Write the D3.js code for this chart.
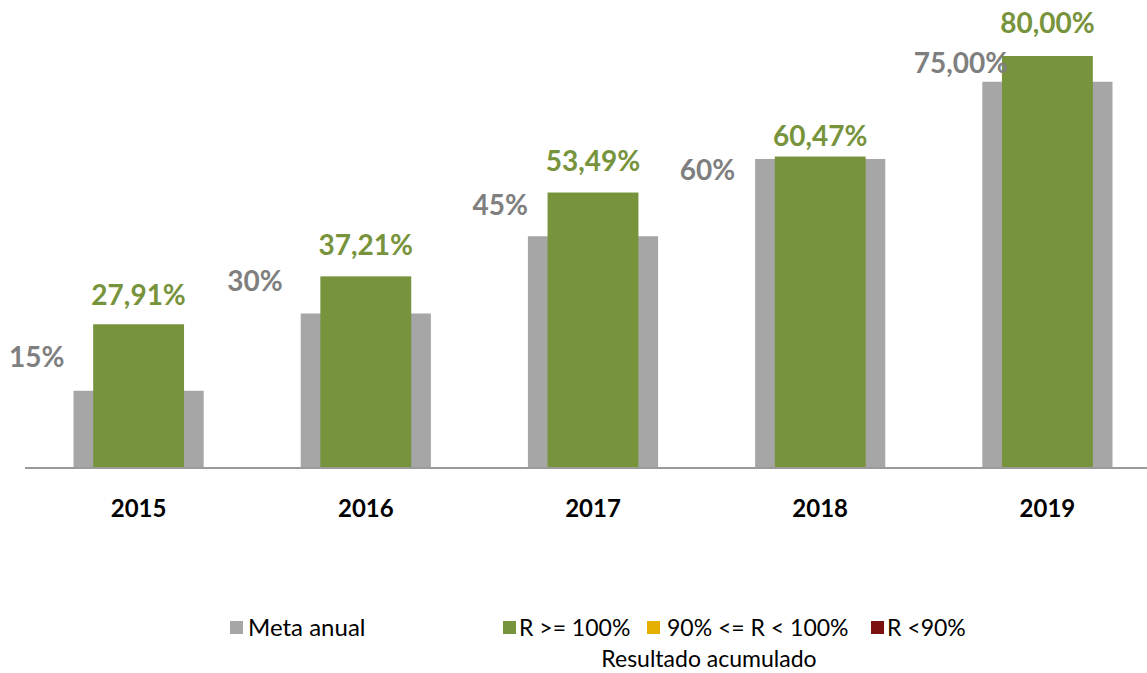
<!DOCTYPE html>
<html>
<head>
<meta charset="utf-8">
<script src="https://cdn.jsdelivr.net/npm/d3@7"></script>
<style>
  body { margin: 0; background: #fff; }
  text { font-family: "Lato", "Open Sans", sans-serif; }
</style>
</head>
<body>
<div id="chart"></div>
<script>
// Data
var years = ["2015", "2016", "2017", "2018", "2019"];
var metaAnual = [15, 30, 45, 60, 75];
var resultado = [27.91, 37.21, 53.49, 60.47, 80.00];
var metaLabels = ["15%", "30%", "45%", "60%", "75,00%"];
var resultadoLabels = ["27,91%", "37,21%", "53,49%", "60,47%", "80,00%"];
var legendItems = ["Meta anual", "R >= 100%", "90% <= R < 100%", "R <90%"];
var legendColors = ["#A6A6A6", "#77933C", "#E6B000", "#7B1010"];

// label nudges (the original labels were placed by hand)
var metaLabelOffset = [[-9, -24], [-18, -23], [0, -21], [-20, 21], [26, -9]];
var resLabelOffset = [-19, -21, -22, -11, -23];

var width = 1147, height = 673;
var x0 = 25, x1 = 1161, baseY = 468;

var svg = d3.select("#chart")
    .append("svg")
    .attr("width", width)
    .attr("height", height);

var x = d3.scaleBand().domain(years).range([x0, x1]);
var y = d3.scaleLinear().domain([0, 80]).range([baseY, baseY - 412]);

var grayW = x.bandwidth() * 0.573;
var greenW = x.bandwidth() * 0.40;

// Meta anual bars
svg.selectAll(".meta")
    .data(metaAnual)
    .enter().append("rect")
    .attr("class", "meta")
    .attr("x", function (d, i) { return x(years[i]) + (x.bandwidth() - grayW) / 2; })
    .attr("y", function (d) { return y(d); })
    .attr("width", grayW)
    .attr("height", function (d) { return baseY - y(d); })
    .attr("fill", "#A6A6A6");

// Resultado bars
svg.selectAll(".res")
    .data(resultado)
    .enter().append("rect")
    .attr("class", "res")
    .attr("x", function (d, i) { return x(years[i]) + (x.bandwidth() - greenW) / 2; })
    .attr("y", function (d) { return y(d); })
    .attr("width", greenW)
    .attr("height", function (d) { return baseY - y(d); })
    .attr("fill", "#77933C");

// Axis line
var axis = svg.append("g")
    .attr("transform", "translate(0," + baseY + ")")
    .call(d3.axisBottom(x).tickSize(0).tickPadding(32));
axis.select(".domain").attr("stroke", "#9a9a9a").attr("stroke-width", 2).attr("d", "M" + x0 + ",0H" + width);
axis.selectAll("text")
    .attr("font-family", "Lato, sans-serif")
    .attr("font-size", 24)
    .attr("font-weight", "bold")
    .attr("fill", "#000");

// Meta labels
svg.selectAll(".metaLabel")
    .data(metaAnual)
    .enter().append("text")
    .attr("text-anchor", "end")
    .attr("x", function (d, i) { return x(years[i]) + (x.bandwidth() - grayW) / 2 + metaLabelOffset[i][0]; })
    .attr("y", function (d, i) { return y(d) + metaLabelOffset[i][1]; })
    .attr("font-size", 28)
    .attr("font-weight", "bold")
    .attr("fill", "#7F7F7F")
    .text(function (d, i) { return metaLabels[i]; });

// Resultado labels
svg.selectAll(".resLabel")
    .data(resultado)
    .enter().append("text")
    .attr("text-anchor", "middle")
    .attr("x", function (d, i) { return x(years[i]) + x.bandwidth() / 2; })
    .attr("y", function (d, i) { return y(d) + resLabelOffset[i]; })
    .attr("font-size", 28)
    .attr("font-weight", "bold")
    .attr("fill", "#77933C")
    .text(function (d, i) { return resultadoLabels[i]; });

// Legend
var legendX = [230, 503, 647, 871];
var leg = svg.selectAll(".leg")
    .data(legendItems)
    .enter().append("g")
    .attr("transform", function (d, i) { return "translate(" + legendX[i] + ",621)"; });
leg.append("rect")
    .attr("width", 13).attr("height", 13)
    .attr("fill", function (d, i) { return legendColors[i]; });
leg.append("text")
    .attr("x", function (d, i) { return i == 0 ? 18 : (i == 2 ? 20 : 16); })
    .attr("y", 15)
    .attr("font-size", function (d, i) { return i == 0 ? 24 : 23; })
    .attr("fill", "#000")
    .text(function (d) { return d; });

svg.append("text")
    .attr("x", 709)
    .attr("y", 667)
    .attr("text-anchor", "middle")
    .attr("font-size", 23)
    .attr("fill", "#000")
    .text("Resultado acumulado");
</script>
</body>
</html>
